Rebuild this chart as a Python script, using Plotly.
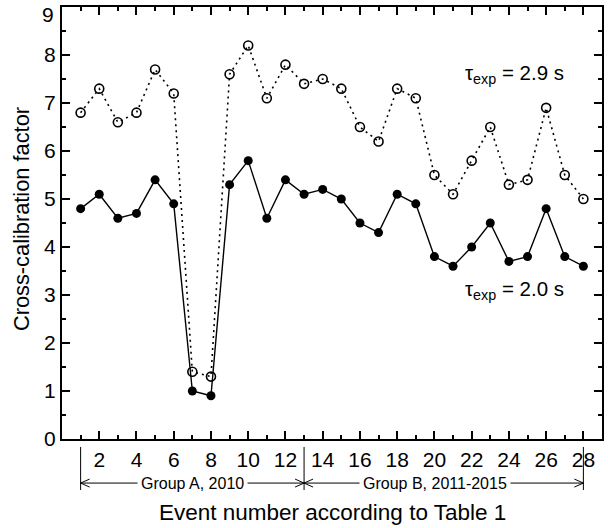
import plotly.graph_objects as go

events = list(range(1, 29))
factor_29 = [6.8, 7.3, 6.6, 6.8, 7.7, 7.2, 1.4, 1.3, 7.6, 8.2, 7.1, 7.8, 7.4, 7.5,
             7.3, 6.5, 6.2, 7.3, 7.1, 5.5, 5.1, 5.8, 6.5, 5.3, 5.4, 6.9, 5.5, 5.0]
factor_20 = [4.8, 5.1, 4.6, 4.7, 5.4, 4.9, 1.0, 0.9, 5.3, 5.8, 4.6, 5.4, 5.1, 5.2,
             5.0, 4.5, 4.3, 5.1, 4.9, 3.8, 3.6, 4.0, 4.5, 3.7, 3.8, 4.8, 3.8, 3.6]
x_tickvals = list(range(2, 29, 2))
y_tickvals = list(range(0, 10))
y_ticktext = ["0", "1", "2", "3", "4", "5", "6", "7", "8", ""]  # "9" drawn below, nudged inside
top_label = "9"
groups = [("Group A, 2010", 1, 13, 7.0), ("Group B, 2011-2015", 13, 28, 20.05)]

FONT = "Liberation Sans, Arial, Helvetica, sans-serif"
TICK = 21

fig = go.Figure()
fig.add_trace(go.Scatter(
    x=events, y=factor_29, mode="lines+markers",
    line=dict(color="black", width=1.6, dash="2px,4px"),
    marker=dict(symbol="circle-open", size=9, color="black", line=dict(width=1.6)),
    showlegend=False))
fig.add_trace(go.Scatter(
    x=events, y=factor_20, mode="lines+markers",
    line=dict(color="black", width=1.4),
    marker=dict(symbol="circle", size=9, color="black"),
    showlegend=False))

axis_common = dict(ticks="inside", ticklen=8, tickwidth=1.5, tickcolor="black",
                   showline=True, linewidth=2, linecolor="black", mirror="ticks",
                   showgrid=False, zeroline=False, tickfont=dict(size=TICK))
fig.update_layout(
    width=608, height=528,
    margin=dict(l=62, r=4, t=7, b=89),
    plot_bgcolor="white", paper_bgcolor="white",
    font=dict(family=FONT, size=21, color="black"),
    xaxis=dict(range=[0, 29], tickmode="array", tickvals=x_tickvals, ticklabelstandoff=1,
               minor=dict(dtick=1, tick0=0, ticks="inside", ticklen=4, tickwidth=1.5, tickcolor="black"),
               **axis_common),
    yaxis=dict(range=[0, 9.001], tickmode="array", tickvals=y_tickvals, ticktext=y_ticktext,
               minor=dict(dtick=0.5, tick0=0, ticks="inside", ticklen=4, tickwidth=1.5, tickcolor="black"),
               **axis_common),
)

fig.add_annotation(text=top_label, xref="paper", x=0, y=9, xanchor="right", yanchor="middle",
                   xshift=-6, yshift=-7, showarrow=False, font=dict(size=TICK))

# axis titles
fig.add_annotation(text="Event number according to Table 1", xref="paper", yref="paper",
                   x=0.5, y=-0.171, xanchor="center", yanchor="middle", showarrow=False,
                   font=dict(size=22.5))
fig.add_annotation(text="Cross-calibration factor", xref="paper", yref="paper",
                   x=-0.076, y=0.509, xanchor="center", yanchor="middle", textangle=-90,
                   showarrow=False, font=dict(size=21.8))

# tau labels
fig.add_annotation(text="τ<sub>exp</sub> = 2.9 s", x=24.3, y=7.6, showarrow=False, font=dict(size=20.5))
fig.add_annotation(text="τ<sub>exp</sub> = 2.0 s", x=24.3, y=3.1, showarrow=False, font=dict(size=20.5))

# group brackets
arrow_y = -0.102
for label, x0, x1, xc in groups:
    fig.add_shape(type="line", xref="x", yref="paper", x0=x0, x1=x1, y0=arrow_y, y1=arrow_y,
                  line=dict(color="black", width=1))
    fig.add_shape(type="path", xref="x", yref="paper", xsizemode="pixel", ysizemode="pixel",
                  xanchor=x0, yanchor=arrow_y, path="M 9,-4 L 0,0 L 9,4",
                  line=dict(color="black", width=1))
    fig.add_shape(type="path", xref="x", yref="paper", xsizemode="pixel", ysizemode="pixel",
                  xanchor=x1, yanchor=arrow_y, path="M -9,-4 L 0,0 L -9,4",
                  line=dict(color="black", width=1))
    fig.add_annotation(text=label, x=xc, xref="x", yref="paper", y=arrow_y, showarrow=False,
                       bgcolor="white", borderpad=3, xanchor="center", yanchor="middle",
                       font=dict(size=16))
for xv in (1, 13, 28):
    fig.add_shape(type="line", xref="x", yref="paper", x0=xv, x1=xv, y0=-0.0185, y1=-0.118,
                  line=dict(color="black", width=1))

fig.write_html("out.html", config={"displayModeBar": False},
               post_script="document.body.style.margin='0';")
